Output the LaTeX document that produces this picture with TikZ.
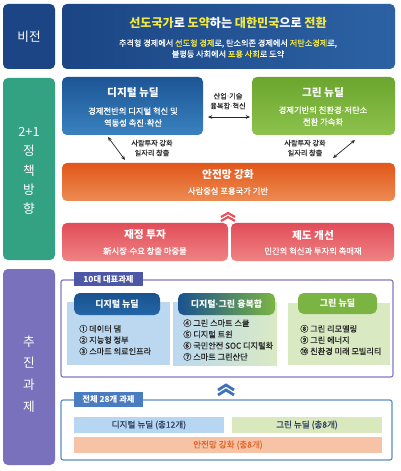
\documentclass[tikz,border=0pt]{standalone}
\usepackage{fontspec}
\setmainfont{Noto Sans CJK KR}
\newfontfamily\krmed[FakeBold=0.6]{Noto Sans CJK KR}
\newfontfamily\latinfont{Liberation Sans}
\newcommand\mdt{{\latinfont ·}}
\usetikzlibrary{arrows.meta,fit}

\definecolor{navy}{HTML}{1B4584}
\definecolor{navyR}{HTML}{2C62A4}
\definecolor{polgreen}{HTML}{33A283}
\definecolor{digtop}{HTML}{1C5595}
\definecolor{digbot}{HTML}{3A82BF}
\definecolor{grntop}{HTML}{6BA62E}
\definecolor{grnbot}{HTML}{8DC24B}
\definecolor{safetop}{HTML}{E2561A}
\definecolor{safebot}{HTML}{EC8C52}
\definecolor{pinktop}{HTML}{E14D58}
\definecolor{pinkbot}{HTML}{EF8384}
\definecolor{purp}{HTML}{7A71BC}
\definecolor{frame}{HTML}{7F78C2}
\definecolor{tabpurp}{HTML}{4C58A6}
\definecolor{lblue}{HTML}{BBD8F0}
\definecolor{lgreen}{HTML}{D9EAC3}
\definecolor{hdblueT}{HTML}{1A5290}
\definecolor{hdblue}{HTML}{2466A6}
\definecolor{hdgreen}{HTML}{7BB443}
\definecolor{frame2}{HTML}{5C8CC6}
\definecolor{tabblue}{HTML}{4A7DC0}
\definecolor{barblue}{HTML}{B6D6F1}
\definecolor{bargreen}{HTML}{D9E9BD}
\definecolor{barsalmon}{HTML}{F7C3A6}
\definecolor{ylw}{HTML}{F4E842}
\definecolor{txtdark}{HTML}{2B3E5E}
\definecolor{txtorange}{HTML}{E0672C}
\definecolor{chevred}{HTML}{E8505B}
\definecolor{chevblue}{HTML}{3F72B8}

\tikzset{
  panel/.style={inner sep=0pt, rounded corners=3.5pt},
  sidelbl/.style={text=white, font=\fontsize{9}{13.8}\selectfont, align=center, inner sep=0pt},
  bigttl/.style={text=white, font=\bfseries\fontsize{8.6}{10}\selectfont, inner sep=0pt},
  ttl/.style={text=white, font=\bfseries\fontsize{7.6}{9}\selectfont, inner sep=0pt},
  sub/.style={text=white, font=\krmed\fontsize{5.9}{8.4}\selectfont, align=center, inner sep=0pt},
  note/.style={text=black!80, font=\krmed\fontsize{5.1}{7}\selectfont, align=center, inner sep=0pt},
  dblarr/.style={{Stealth[length=3pt,width=2.6pt]}-{Stealth[length=3pt,width=2.6pt]}, line width=0.5pt, black!85},
  chev/.style={line width=1.5pt, line join=miter},
  tabbox/.style={inner sep=0pt},
  tabtxt/.style={text=white, font=\bfseries\fontsize{5.9}{7}\selectfont, inner sep=0pt},
  pill/.style={inner sep=0pt, rounded corners=4pt},
  pilltxt/.style={text=white, font=\bfseries\fontsize{6.4}{7}\selectfont, inner sep=0pt},
  item/.style={text=black!85, font=\krmed\fontsize{5.8}{8}\selectfont, align=left, anchor=west, inner sep=0pt},
  bartxt/.style={font=\krmed\fontsize{6.1}{7}\selectfont, inner sep=0pt},
}

\begin{document}
\begin{tikzpicture}[x=0.025cm,y=-0.025cm]
\useasboundingbox[fill=white] (0,0) rectangle (400,471);

% vision
\node[panel, fill=navy, fit={(3,4) (55,69)}] (vislbl) {};
\node[sidelbl] (vislblt) at (vislbl.center) {비전};
\node[panel, left color=navy, right color=navyR, fit={(62,4) (395,69)}] (vis) {};
\node[bigttl] (vist) at (228,23) {\textcolor{ylw}{선도국가}로 \textcolor{ylw}{도약}하는 \textcolor{ylw}{대한민국}으로 \textcolor{ylw}{전환}};
\node[sub, font=\krmed\fontsize{5.8}{7.8}\selectfont] (viss) at (228,48.5) {추격형 경제에서 \textcolor{ylw}{선도형 경제}로, 탄소의존 경제에서 \textcolor{ylw}{저탄소경제}로,\\불평등 사회에서 \textcolor{ylw}{포용 사회}로 도약};

% policy directions
\node[panel, fill=polgreen, fit={(3,78) (55,260)}] (pollbl) {};
\node[sidelbl] (pollblt) at (29,171) {2+1\\정\\책\\방\\향};

\node[panel, top color=digtop, bottom color=digbot, fit={(62,77) (203,135)}] (dig) {};
\node[ttl] (digt) at (133,93) {디지털 뉴딜};
\node[sub] (digs) at (133,117) {경제전반의 디지털 혁신 및\\역동성 촉진\mdt 확산};

\node[panel, top color=grntop, bottom color=grnbot, fit={(252,77) (395,135)}] (grn) {};
\node[ttl] (grnt) at (323,93) {그린 뉴딜};
\node[sub] (grns) at (323,116) {경제기반의 친환경\mdt 저탄소\\전환 가속화};

\node[note] (mix) at (228,101) {산업\mdt 기술\\융복합\mdt 혁신};
\coordinate (mixL) at (208,117);
\coordinate (mixR) at (250,117);
\draw[dblarr] (mixL) -- (mixR);

\node[note] (digjob) at (152,148) {사람투자 강화\\일자리 창출};
\coordinate (digA) at (108,137);
\coordinate (digB) at (125,160);
\draw[dblarr] (digA) -- (digB);

\node[note] (grnjob) at (305,148) {사람투자 강화\\일자리 창출};
\coordinate (grnA) at (355,140);
\coordinate (grnB) at (333,158);
\draw[dblarr] (grnA) -- (grnB);

\node[panel, top color=safetop, bottom color=safebot, fit={(62,163) (395,201)}] (safe) {};
\node[ttl] (safet) at (228,175) {안전망 강화};
\node[sub] (safes) at (228,191) {사람중심 포용국가 기반};

\draw[chev, chevred] (221,217) -- (228,213) -- (235,217);
\draw[chev, chevred] (221,221) -- (228,217) -- (235,221);

\node[panel, top color=pinktop, bottom color=pinkbot, fit={(62,223) (228,261)}] (fisc) {};
\node[ttl] (fisct) at (145,235) {재정 투자};
\node[sub] (fiscs) at (145,251) {新시장\mdt 수요 창출 마중물};

\node[panel, top color=pinktop, bottom color=pinkbot, fit={(231,223) (394,261)}] (inst) {};
\node[ttl] (instt) at (313,235) {제도 개선};
\node[sub] (insts) at (313,251) {민간의 혁신과 투자의 촉매재};

% tasks
\node[panel, fill=purp, fit={(3,269) (55,465)}] (execlbl) {};
\node[sidelbl, font=\fontsize{9}{15.4}\selectfont] (execlblt) at (29,374) {추\\진\\과\\제};

\node[draw=frame, line width=0.8pt, rounded corners=1.5pt, inner sep=0pt, fit={(61,280) (393,377)}] (top10) {};
\node[tabbox, fill=tabpurp, fit={(74,272) (143,286)}] (tab10) {};
\node[tabtxt] (tab10t) at (tab10.center) {10대 대표과제};

\node[inner sep=0pt, fill=lblue, fit={(67,302) (170,365)}] (col1) {};
\node[inner sep=0pt, left color=lblue, right color=lgreen, fit={(173,302) (277,365)}] (col2) {};
\node[inner sep=0pt, fill=lgreen, fit={(288,303) (390,365)}] (col3) {};

\node[pill, top color=hdblueT, bottom color=hdblue, fit={(74,293) (160,315)}] (hd1) {};
\node[pilltxt] (hd1t) at (hd1.center) {디지털 뉴딜};
\node[pill, left color=hdblueT, right color=hdgreen, fit={(178,293) (275,315)}] (hd2) {};
\node[pilltxt] (hd2t) at (hd2.center) {디지털\mdt 그린 융복합};
\node[pill, fill=hdgreen, fit={(298,293) (377,314)}] (hd3) {};
\node[pilltxt] (hd3t) at (hd3.center) {그린 뉴딜};

\node[item] (it1) at (79,340) {① 데이터 댐\\② 지능형 정부\\③ 스마트 의료인프라};
\node[item] (it2) at (183,340) {④ 그린 스마트 스쿨\\⑤ 디지털 트윈\\⑥ 국민안전 SOC 디지털화\\⑦ 스마트 그린산단};
\node[item] (it3) at (300,340) {⑧ 그린 리모델링\\⑨ 그린 에너지\\⑩ 친환경 미래 모빌리티};

\draw[chev, chevblue, line width=2pt] (218,390) -- (226,385) -- (234,390);
\draw[chev, chevblue, line width=2pt] (218,395) -- (226,390) -- (234,395);

\node[draw=frame2, line width=0.8pt, rounded corners=1.5pt, inner sep=0pt, fit={(61,400) (392,460)}] (all28) {};
\node[tabbox, fill=tabblue, fit={(74,392) (143,407)}] (tab28) {};
\node[tabtxt] (tab28t) at (tab28.center) {전체 28개 과제};

\node[inner sep=0pt, fill=barblue, fit={(74,417) (224,433)}] (bar1) {};
\node[bartxt, text=txtdark] (bar1t) at (bar1.center) {디지털 뉴딜 (총12개)};
\node[inner sep=0pt, fill=bargreen, fit={(232,417) (382,433)}] (bar2) {};
\node[bartxt, text=txtdark] (bar2t) at (bar2.center) {그린 뉴딜 (총8개)};
\node[inner sep=0pt, fill=barsalmon, fit={(74,437) (382,453)}] (bar3) {};
\node[bartxt, text=txtorange] (bar3t) at (bar3.center) {안전망 강화 (총8개)};
\end{tikzpicture}
\end{document}
